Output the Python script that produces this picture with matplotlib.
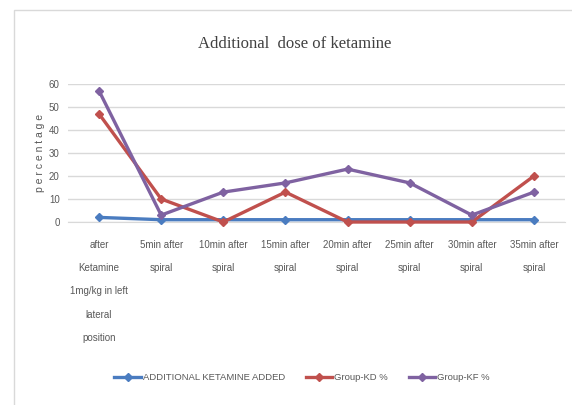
#!/usr/bin/env python3

import matplotlib
matplotlib.use("Agg")
import matplotlib.pyplot as plt
from matplotlib.patches import Rectangle

categories = [
	"after\nKetamine\n1mg/kg in left\nlateral\nposition",
	"5min after\nspiral",
	"10min after\nspiral",
	"15min after\nspiral",
	"20min after\nspiral",
	"25min after\nspiral",
	"30min after\nspiral",
	"35min after\nspiral",
]
ketamine_added = [2, 1, 1, 1, 1, 1, 1, 1]
group_kd = [47, 10, 0, 13, 0, 0, 0, 20]
group_kf = [57, 3, 13, 17, 23, 17, 3, 13]
y_ticks = [0, 10, 20, 30, 40, 50, 60]

plt.rcParams['font.family'] = ['Liberation Sans', 'DejaVu Sans']

fig = plt.figure(figsize=(5.72, 4.05), dpi=100)
# light chart frame
fig.patches.append(Rectangle((14 / 572, -0.01), 1.0, 1 - 10 / 405 + 0.01,
	transform=fig.transFigure, fill=False, edgecolor='#d9d9d9', linewidth=1.0))

ax = fig.add_axes([68 / 572, 1 - 222 / 405, (565 - 68) / 572, (222 - 84) / 405])
x = list(range(len(categories)))

series = [
	(ketamine_added, '#4a7cc0', 'ADDITIONAL KETAMINE ADDED'),
	(group_kd, '#c0504d', 'Group-KD %'),
	(group_kf, '#7f62a1', 'Group-KF %'),
]
for values, color, name in series:
	ax.plot(x, values, color=color, linewidth=2.4, marker='D', markersize=4.5,
		label=name, clip_on=False, zorder=3)

ax.set_xlim(-0.5, len(categories) - 0.5)
ax.set_ylim(0, 60)
ax.set_yticks(y_ticks)
ax.set_xticks(x)
ax.set_xticklabels(categories, linespacing=2.65)
ax.tick_params(axis='both', length=0, labelsize=7, colors='#595959')
ax.tick_params(axis='x', pad=13)
ax.tick_params(axis='y', pad=6)
ax.grid(axis='y', color='#d9d9d9', linewidth=1.0)
ax.set_axisbelow(True)
for side in ['top', 'right', 'left']:
	ax.spines[side].set_visible(False)
ax.spines['bottom'].set_color('#d9d9d9')

ax.set_ylabel('p e r c e n t a g e', fontsize=7.5, color='#595959', labelpad=3)

fig.text(295 / 572, 1 - 44 / 405, 'Additional  dose of ketamine', ha='center', va='center',
	fontsize=12, family=['Liberation Serif', 'DejaVu Serif'], color='#404040')

fig.legend(loc='center', bbox_to_anchor=(302 / 572, 1 - 378 / 405), ncol=3, frameon=False,
	fontsize=6.8, handlelength=2.8, columnspacing=2.2, handletextpad=0.2,
	labelcolor='#595959')

fig.savefig("out.png", dpi=100)
